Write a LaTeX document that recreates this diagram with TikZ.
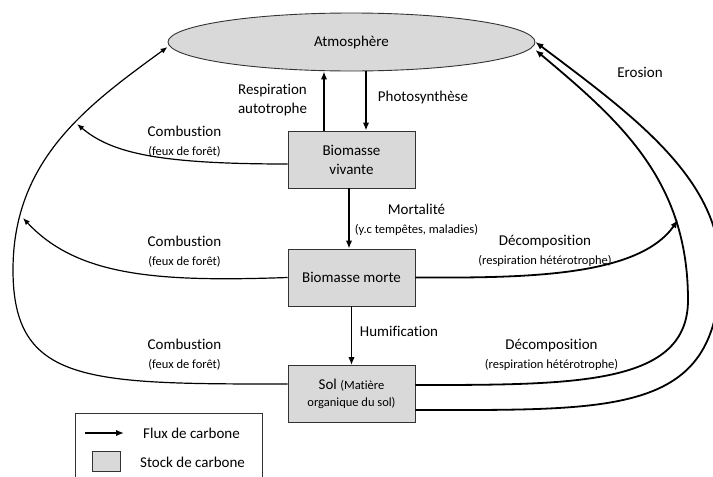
\documentclass[tikz,border=0pt]{standalone}
\usepackage{fontspec}
\setmainfont{Carlito}[Ligatures=NoCommon]
\usepackage{tikz}
\usetikzlibrary{arrows.meta,shapes.geometric}

\definecolor{stockgrey}{RGB}{217,217,217}
\newcommand{\petit}{\fontsize{12.5}{15}\selectfont}

\begin{document}
\begin{tikzpicture}[x=1pt,y=1pt,font=\fontsize{15}{19}\selectfont,
  stock/.style={draw=black!80,line width=0.9pt,fill=stockgrey,minimum width=127pt,
    minimum height=57pt,inner sep=0pt,align=center},
  flux/.style={line width=1.8pt,-{Latex[length=8pt,width=6.5pt]}},
  fluxfin/.style={line width=1.2pt,-{Latex[length=7pt,width=5.5pt]}},
  lbl/.style={align=center,inner sep=1pt}]

\clip (0,0) rectangle (713,-477);

% Stocks
\node[ellipse,draw=black!80,line width=0.9pt,fill=stockgrey,minimum width=367pt,
  minimum height=58pt,inner sep=0pt] (atm) at (351.5,-42) {Atmosphère};
\node[stock] (viv) at (351.5,-159.5) {Biomasse\\vivante};
\node[stock] (morte) at (351.5,-277.5) {Biomasse morte};
\node[stock] (sol) at (351.5,-394) {Sol {\petit(Matière}\\[-2pt]{\petit organique du sol)}};

% Vertical fluxes
\draw[flux] ([xshift=-27.5pt]viv.north) -- ([xshift=-27.5pt]atm.south);
\draw[flux] ([xshift=14.5pt]atm.south) -- ([xshift=14.5pt]viv.north);
\draw[flux] ([xshift=-2.5pt]viv.south) -- ([xshift=-2.5pt]morte.north);
\draw[flux] (morte.south) -- (sol.north);

% Labels
\node[lbl] (respi) at (272.5,-100.5) {Respiration\\autotrophe};
\node[lbl] (photo) at (423,-97) {Photosynthèse};
\node[lbl] (mortal) at (416.5,-219.5) {Mortalité\\{\petit(y.c tempêtes, maladies)}};
\node[lbl] (humif) at (399,-331) {Humification};
\node[lbl] (comb1) at (184.5,-141.5) {Combustion\\{\petit(feux de forêt)}};
\node[lbl] (comb2) at (184.5,-252) {Combustion\\{\petit(feux de forêt)}};
\node[lbl] (comb3) at (184.5,-355) {Combustion\\{\petit(feux de forêt)}};
\node[lbl] (decomp1) at (545,-251) {Décomposition\\{\petit(respiration hétérotrophe)}};
\node[lbl] (decomp2) at (551.5,-354.5) {Décomposition\\{\petit(respiration hétérotrophe)}};
\node[lbl] (erosion) at (640,-72) {Erosion};

% Combustion, left side
\coordinate (c1) at (77,-124);
\coordinate (c2) at (23,-218);
\coordinate (c3) at (13,-270);
\draw[fluxfin] ([yshift=-4.5pt]viv.west) to[out=180,in=-40,out distance=130pt,in distance=45pt] (c1);
\draw[fluxfin] (morte.west) to[out=182,in=-47,out distance=130pt,in distance=80pt] (c2);
\draw[fluxfin] ([yshift=10pt]sol.west) .. controls (88,-384) and (13,-384) .. (c3)
  to[out=90,in=-144,out distance=110pt,in distance=100pt] ([yshift=-5pt]atm.west);

% Decomposition and erosion, right side
\coordinate (d1) at (678,-220);
\coordinate (d2) at (688,-300);
\coordinate (d3) at (720,-268);
\draw[flux] (morte.east) .. controls (525,-278) and (638,-277) .. (d1);
\draw[flux] ([yshift=9pt]sol.east) .. controls (577,-385) and (688,-385) .. (d2)
  to[out=90,in=-40,out distance=120pt,in distance=110pt] ([yshift=-8pt]atm.east);
\draw[flux] ([yshift=-16pt]sol.east) .. controls (620,-410) and (720,-415) .. (d3)
  to[out=90,in=-37,out distance=90pt,in distance=120pt] (atm.east);

% Legend
\draw[draw=black!80,line width=0.9pt] (75,-413) rectangle (262,-490);
\coordinate (legA) at (85,-433);
\coordinate (legB) at (124,-433);
\draw[flux] (legA) -- (legB);
\node[anchor=west,inner sep=0pt] (legflux) at (143,-433) {Flux de carbone};
\node[stock,minimum width=28pt,minimum height=20pt] (legstock) at (106,-461) {};
\node[anchor=west,inner sep=0pt] (legstocktxt) at (140,-462) {Stock de carbone};

\end{tikzpicture}
\end{document}
